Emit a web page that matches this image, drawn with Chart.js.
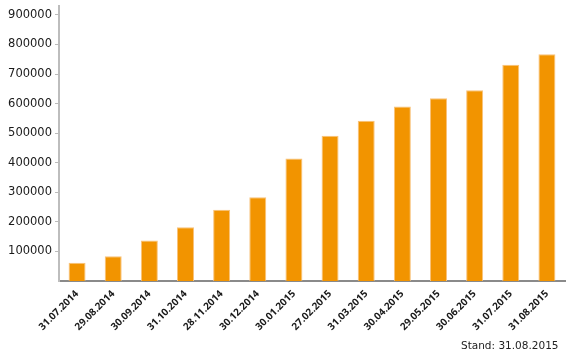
<!DOCTYPE html>
<html>
<head>
<meta charset="utf-8">
<script src="https://cdn.jsdelivr.net/npm/chart.js@4/dist/chart.umd.min.js"></script>
<style>
html,body{margin:0;padding:0;background:#fff;}
#wrap{position:relative;width:570px;height:362px;}
#stand{position:absolute;left:461px;top:339px;font:10.5px "DejaVu Sans",sans-serif;color:#222;white-space:nowrap;}
</style>
</head>
<body>
<div id="wrap">
<canvas id="c" width="570" height="362"></canvas>
<div id="stand">Stand: 31.08.2015</div>
</div>
<script>
const categories = ["31.07.2014","29.08.2014","30.09.2014","31.10.2014","28.11.2014","30.12.2014","30.01.2015","27.02.2015","31.03.2015","30.04.2015","29.05.2015","30.06.2015","31.07.2015","31.08.2015"];
const values = [62000,84000,137000,182000,241000,283000,414000,491000,542000,590000,618000,645000,731000,767000];
const yTicks = [100000,200000,300000,400000,500000,600000,700000,800000,900000];

new Chart(document.getElementById('c'), {
  type: 'bar',
  data: {
    labels: categories,
    datasets: [{
      data: values,
      backgroundColor: '#F29400',
      borderColor: '#F8C27A',
      borderWidth: 1,
      barPercentage: 0.47,
      categoryPercentage: 1
    }]
  },
  options: {
    responsive: false,
    animation: false,
    layout: { padding: { top: 6, right: 5, left: 0, bottom: 0 } },
    plugins: { legend: { display: false }, tooltip: { enabled: false } },
    scales: {
      x: {
        grid: { display: false, drawTicks: false },
        border: { display: true, color: '#8a8a8a', width: 2 },
        ticks: {
          minRotation: 45, maxRotation: 45, padding: 7,
          color: '#1a1a1a',
          font: { family: 'Open Sans', size: 10, weight: 'bold' }
        },
        afterFit(s) { s.height = 81; s.paddingLeft = 0; s.paddingRight = 0; }
      },
      y: {
        min: 0, max: 930000,
        grid: { drawOnChartArea: false, drawTicks: true, tickLength: 4, color: '#bbbbbb' },
        border: { display: true, color: '#bdbdbd', width: 2 },
        afterBuildTicks(s) { s.ticks = yTicks.map(v => ({ value: v })); },
        ticks: {
          padding: 3, color: '#1a1a1a',
          font: { family: 'DejaVu Sans', size: 11.5 },
          callback: v => String(v)
        },
        afterFit(s) { s.width = 59; s.paddingTop = 0; s.paddingBottom = 0; }
      }
    }
  }
});
</script>
</body>
</html>
